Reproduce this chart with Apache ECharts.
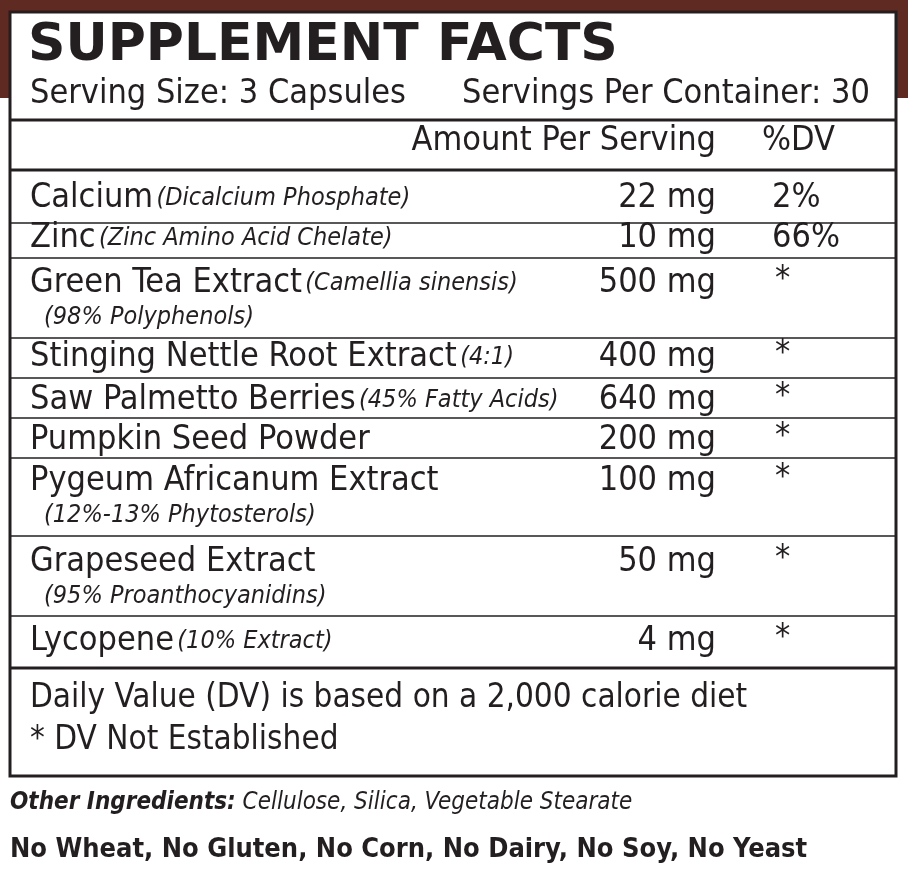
<!DOCTYPE html><html><head><meta charset="utf-8">
<script src="https://cdn.jsdelivr.net/npm/echarts@6/dist/echarts.min.js"></script>
<style>html,body{margin:0;padding:0;background:#fff}#c{width:908px;height:876px}</style></head><body><div id="c"></div>
<script>
const title = "SUPPLEMENT FACTS";
const servingSize = "Serving Size: 3 Capsules";
const servingsPer = "Servings Per Container: 30";
const headers = ["Amount Per Serving", "%DV"];
const names = ["Calcium", "Zinc", "Green Tea Extract", "Stinging Nettle Root Extract", "Saw Palmetto Berries", "Pumpkin Seed Powder", "Pygeum Africanum Extract", "Grapeseed Extract", "Lycopene"];
const notes = ["(Dicalcium Phosphate)", "(Zinc Amino Acid Chelate)", "(Camellia sinensis)", "(4:1)", "(45% Fatty Acids)", "", "", "", "(10% Extract)"];
const subNotes = ["", "", "(98% Polyphenols)", "", "", "", "(12%-13% Phytosterols)", "(95% Proanthocyanidins)", ""];
const amounts = ["22 mg", "10 mg", "500 mg", "400 mg", "640 mg", "200 mg", "100 mg", "50 mg", "4 mg"];
const dv = ["2%", "66%", "*", "*", "*", "*", "*", "*", "*"];
const footnotes = ["Daily Value (DV) is based on a 2,000 calorie diet", "* DV Not Established"];
const otherLabel = "Other Ingredients:";
const otherText = " Cellulose, Silica, Vegetable Stearate";
const allergens = "No Wheat, No Gluten, No Corn, No Dairy, No Soy, No Yeast";

const F = '"Liberation Sans Narrow","DejaVu Sans Condensed","Roboto Condensed",sans-serif';
const ink = '#231f20';
const rowY = [198, 238, 283, 357, 400, 440, 481, 562, 641];
const lines = [[223,1.5],[258,1.5],[338,1.5],[378,1.5],[418,1.5],[458,1.5],[536,1.5],[616,1.5],[668,3],[120,3],[170,3]];
const g = [];
g.push({type:'rect', shape:{x:0,y:0,width:908,height:98}, style:{fill:'#5e2a22'}});
g.push({type:'rect', shape:{x:10,y:12,width:886,height:764}, style:{fill:'#fff',stroke:ink,lineWidth:3}});
lines.forEach(l=>g.push({type:'line', shape:{x1:10,y1:l[0],x2:896,y2:l[0]}, style:{stroke:ink,lineWidth:l[1]}}));
function t(x,y,text,opts){g.push({type:'text',x:x,y:y,style:Object.assign({text:text,fill:ink,font:'34px '+F,verticalAlign:'middle',align:'left'},opts||{})});}
t(28,46,title,{font:'bold 52px "DejaVu Sans",sans-serif'});
t(30,94,servingSize);
t(870,94,servingsPer,{align:'right'});
t(716,141,headers[0],{align:'right'});
t(762,141,headers[1]);
names.forEach((n,i)=>{
  g.push({type:'text',x:30,y:rowY[i],style:{text:'{n|'+n+'}'+(notes[i]?' {i|'+notes[i]+'}':''),verticalAlign:'middle',rich:{n:{font:'34px '+F,fill:ink},i:{font:'italic 25px '+F,fill:ink}}}});
  if(subNotes[i]) t(44,rowY[i]+34,subNotes[i],{font:'italic 25px '+F});
  t(716,rowY[i],amounts[i],{align:'right'});
  t(dv[i]==='*'?775:772,rowY[i]+(dv[i]==='*'?-3:0),dv[i]);
});
t(30,698,footnotes[0],{font:'33px '+F});
t(30,740,footnotes[1],{font:'33px '+F});
g.push({type:'text',x:10,y:803,style:{text:'{b|'+otherLabel+'}{i|'+otherText+'}',verticalAlign:'middle',rich:{b:{font:'italic bold 24px '+F,fill:ink},i:{font:'italic 24px '+F,fill:ink}}}});
t(10,850,allergens,{font:'bold 27px '+F});
const chart = echarts.init(document.getElementById('c'));
chart.setOption({animation:false, graphic:g});
</script></body></html>
